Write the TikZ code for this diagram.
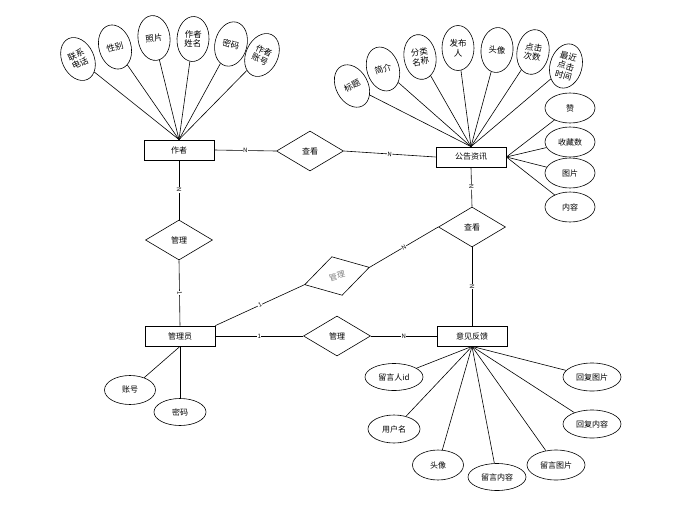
\documentclass[tikz,border=0pt]{standalone}
\usepackage{fontspec}
\setmainfont{Noto Sans CJK SC}
\usetikzlibrary{shapes.geometric}

\tikzset{
  entity/.style={draw, line width=0.8pt, minimum width=70pt, minimum height=20pt, inner sep=0pt, font=\fontsize{8}{9}\selectfont},
  rel/.style={draw, diamond, line width=0.6pt, minimum width=67pt, minimum height=40pt, inner sep=0pt, font=\fontsize{8}{9}\selectfont},
  attrv/.style={draw, ellipse, line width=0.6pt, minimum width=32pt, minimum height=45pt, inner sep=0pt, align=center, font=\fontsize{8.5}{9.5}\selectfont},
  attrh/.style={draw, ellipse, line width=0.6pt, minimum width=56pt, minimum height=27pt, inner sep=0pt, font=\fontsize{8}{9}\selectfont},
  lbl/.style={font=\fontsize{6}{6}\selectfont, inner sep=0.5pt, fill=white, sloped},
}

\begin{document}
\begin{tikzpicture}[x=1pt,y=-1pt,line width=0.6pt]
        \useasboundingbox (0,0) rectangle (673,507);

        % Entities
        \node[entity] (zz) at (179,150) {作者};
        \node[entity] (gg) at (471,157) {公告资讯};
        \node[entity] (gly) at (180,336) {管理员};
        \node[entity] (yj) at (472,336) {意见反馈};

        % Relations
        \node[rel] (ck) at (310,151) {查看};
        \node[rel] (gl) at (179,240) {管理};
        \node[rel, rotate=15, text=gray] (gl2) at (337,276) {管理};
        \node[rel] (ck2) at (472,227) {查看};
        \node[rel] (gl3) at (337,336) {管理};

        % Attributes of the author
        \node[attrv, rotate=25] (zlx) at (78,59) {联系\\电话};
        \node[attrv, rotate=16] (zxb) at (115,47) {性别};
        \node[attrv, rotate=7] (zzp) at (154,38) {照片};
        \node[attrv, rotate=-3] (zxm) at (193,39) {作者\\姓名};
        \node[attrv, rotate=-14] (zmm) at (231,44) {密码};
        \node[attrv, rotate=-25] (zzh) at (262,55) {作者\\账号};
        \foreach \a in {zlx,zxb,zzp,zxm,zmm,zzh}
          \draw (zz.north) -- (\a);

        % Attributes of the notice
        \node[attrv, rotate=28] (gbt) at (352,86) {标题};
        \node[attrv, rotate=18] (gjj) at (383,69) {简介};
        \node[attrv, rotate=9] (gfl) at (420,57) {分类\\名称};
        \node[attrv] (gfb) at (458,48) {发布\\人};
        \node[attrv, rotate=-5] (gtx) at (497,50) {头像};
        \node[attrv, rotate=-10] (gdj) at (533,52) {点击\\次数};
        \node[attrv, rotate=-15] (gzj) at (566,66) {最近\\点击\\时间};
        \foreach \a in {gbt,gjj,gfl,gfb,gtx,gdj,gzj}
          \draw (gg.north) -- (\a);
        \node[attrh, minimum width=50pt, minimum height=30pt] (gz) at (570,108) {赞};
        \node[attrh, minimum width=50pt, minimum height=30pt] (gsc) at (570,142) {收藏数};
        \node[attrh, minimum width=50pt, minimum height=30pt] (gtp) at (570,173) {图片};
        \node[attrh, minimum width=50pt, minimum height=30pt] (gnr) at (570,207) {内容};
        \foreach \a in {gz,gsc,gtp,gnr}
          \draw (gg.east) -- (\a);

        % Attributes of the administrator
        \node[attrh, minimum width=51pt, minimum height=29pt] (azh) at (130,390) {账号};
        \node[attrh, minimum width=52pt, minimum height=27pt] (amm) at (180,412) {密码};
        \draw (gly.south) -- (azh);
        \draw (gly.south) -- (amm);

        % Attributes of the feedback
        \node[attrh, minimum width=58pt] (yid) at (394,377) {留言人id};
        \node[attrh, minimum width=52pt, minimum height=28pt] (yyh) at (394,429) {用户名};
        \node[attrh, minimum width=51pt, minimum height=30pt] (ytx) at (438,465) {头像};
        \node[attrh, minimum width=58pt] (ynr) at (497,477) {留言内容};
        \node[attrh, minimum width=58pt, minimum height=30pt] (ytp) at (556,465) {留言图片};
        \node[attrh, minimum width=58pt, minimum height=28pt] (yhn) at (592,424) {回复内容};
        \node[attrh, minimum width=58pt, minimum height=28pt] (yht) at (592,377) {回复图片};
        \foreach \a in {yid,yyh,ytx,ynr,ytp,yhn,yht}
          \draw (yj.south) -- (\a);

        % Relationships
        \draw (zz.east) -- node[lbl] {N} (ck.west);
        \draw (ck.east) -- node[lbl] {N} (gg.west);
        \draw (zz.south) -- node[lbl] {N} (gl.north);
        \draw (gl.south) -- node[lbl] {1} (gly.north);
        \draw (gly.north east) -- node[lbl] {1} (gl2.west);
        \draw (gl2.east) -- node[lbl] {N} (ck2.west);
        \draw (gg.south) -- node[lbl] {N} (ck2.north);
        \draw (ck2.south) -- node[lbl] {N} (yj.north);
        \draw (gly.east) -- node[lbl] {1} (gl3.west);
        \draw (gl3.east) -- node[lbl] {N} (yj.west);
    \end{tikzpicture}
\end{document}
